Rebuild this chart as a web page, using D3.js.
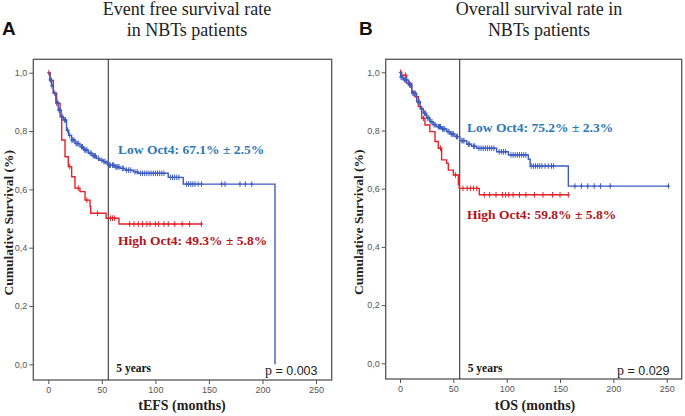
<!DOCTYPE html>
<html>
<head>
<meta charset="utf-8">
<script src="https://cdn.jsdelivr.net/npm/d3@7"></script>
<style>
  body { margin: 0; background: #fff; }
  svg { display: block; }
</style>
</head>
<body>
<svg id="chart" width="685" height="416"></svg>
<script>
// ---------- DATA ----------
const xTicks = [0, 50, 100, 150, 200, 250];
const yTicks = [0, 0.2, 0.4, 0.6, 0.8, 1.0];
const fiveYears = 56; // vertical reference line (months)

// Panel A: event-free survival
const efsLowT = [0, 1.6, 3, 4.7, 7, 9.3, 12, 14, 17, 19, 21.8, 25, 29.6, 33, 37.3, 41, 45, 48, 51.4, 54, 56, 62, 67, 71.6, 79.4, 84, 112, 126, 211.7];
const efsLowS = [1, 0.975, 0.955, 0.93, 0.9, 0.872, 0.85, 0.838, 0.803, 0.785, 0.769, 0.757, 0.746, 0.735, 0.724, 0.715, 0.706, 0.70, 0.695, 0.69, 0.683, 0.677, 0.672, 0.666, 0.660, 0.655, 0.641, 0.618, 0];
const efsLowEnd = 211.7;
const efsLowCens = [2, 3.5, 6, 8, 10, 11, 13, 15, 16, 18, 20, 22, 23, 24, 26, 27, 28, 31, 32, 34, 35, 36, 39, 40, 42, 43, 44, 47, 50, 52, 53, 55, 57, 58, 60, 61, 63, 64, 65, 66, 69, 70, 73, 75, 77, 81, 83, 86, 88, 90, 92, 94, 96, 98, 100, 102, 104, 106, 108, 114, 116, 118, 120, 122, 129, 131, 133, 135, 137, 140, 143, 162, 165, 179, 184, 190];

const efsHighT = [0, 1.6, 4.7, 7.8, 11, 12.5, 15.6, 18.7, 21.8, 24.9, 29.6, 34.3, 39, 39.6, 54, 66];
const efsHighS = [1, 0.973, 0.93, 0.895, 0.849, 0.769, 0.712, 0.678, 0.643, 0.604, 0.592, 0.563, 0.541, 0.518, 0.501, 0.481];
const efsHighEnd = 143;
const efsHighCens = [0.5, 3, 8, 20, 28, 36, 46, 58, 60, 62, 76, 80, 84, 88, 92, 95, 100, 103, 108, 112, 118, 125, 132, 143];

// Panel B: overall survival
const osLowT = [0, 0.5, 3.1, 7.8, 11, 15.6, 19, 21.9, 25, 28, 31, 34.4, 39, 43.7, 47, 51.5, 56, 62.5, 67, 72, 90.6, 101.6, 120.3, 122, 157.8];
const osLowS = [1, 0.983, 0.974, 0.956, 0.928, 0.899, 0.875, 0.859, 0.843, 0.830, 0.82, 0.813, 0.805, 0.796, 0.788, 0.779, 0.765, 0.753, 0.746, 0.739, 0.727, 0.716, 0.701, 0.678, 0.609];
const osLowEnd = 251.6;
const osLowCens = [1, 2, 4, 5, 6, 9, 10, 12, 13, 14, 17, 18, 20, 23, 24, 26, 27, 29, 30, 32, 33, 36, 37, 38, 40, 41, 42, 45, 46, 48, 49, 50, 53, 54, 58, 59, 60, 64, 65, 69, 70, 74, 76, 78, 80, 82, 84, 86, 88, 93, 95, 97, 99, 104, 106, 108, 110, 112, 114, 116, 118, 123, 125, 127, 129, 131, 133, 136, 139, 142, 144, 164, 170, 176, 182, 188, 197, 251.6];

const osHighT = [0, 1.5, 6.2, 11, 14, 17.2, 20.3, 23.4, 28, 32.8, 35.9, 39, 43.7, 45.3, 50, 54.7, 55.6, 74.3];
const osHighS = [1, 0.99, 0.962, 0.933, 0.916, 0.882, 0.842, 0.819, 0.796, 0.762, 0.739, 0.699, 0.687, 0.664, 0.647, 0.613, 0.601, 0.579];
const osHighEnd = 157.8;
const osHighCens = [0.5, 5, 9, 22, 38, 52, 59, 63, 66, 69, 72, 79, 84, 90, 96, 99, 102, 106, 112, 118, 126, 134, 143, 150, 157.8];

// ---------- DRAW ----------
const svg = d3.select("#chart");
const blueLine = "#3d5cc0", redLine = "#e4232b";
const blueText = "#2b78b8", redText = "#b3141c";
const serif = "'Liberation Serif', 'Times New Roman', serif";
const sans = "'Liberation Sans', Arial, sans-serif";

const panels = [
  {
    letter: "A", letterX: 2, title: ["Event free survival rate", "in NBTs patients"], titleX: 187,
    box: [33.3, 59.3, 331.7, 380], xr: [48.3, 316], yr: [364.3, 72.7],
    xlabel: "tEFS (months)", xlabelX: 182, ytitleX: 13,
    low: {t: efsLowT, s: efsLowS, end: efsLowEnd, cens: efsLowCens},
    high: {t: efsHighT, s: efsHighS, end: efsHighEnd, cens: efsHighCens},
    lowLabel: "Low Oct4: 67.1% \u00b1 2.5%", lowLabelPos: [118, 154],
    highLabel: "High Oct4: 49.3% \u00b1 5.8%", highLabelPos: [118, 245],
    p: "0.003", pX: 265
  },
  {
    letter: "B", letterX: 359, title: ["Overall survival rate in", "NBTs patients"], titleX: 539,
    box: [385.7, 59.3, 681.7, 379], xr: [400, 666.7], yr: [363.3, 72.3],
    xlabel: "tOS (months)", xlabelX: 535, ytitleX: 363,
    low: {t: osLowT, s: osLowS, end: osLowEnd, cens: osLowCens},
    high: {t: osHighT, s: osHighS, end: osHighEnd, cens: osHighCens},
    lowLabel: "Low Oct4: 75.2% \u00b1 2.3%", lowLabelPos: [467, 132],
    highLabel: "High Oct4: 59.8% \u00b1 5.8%", highLabelPos: [467, 219],
    p: "0.029", pX: 617
  }
];

const fmt = d => d3.format(".1f")(d).replace(".", ",");

panels.forEach(P => {
  const x = d3.scaleLinear().domain([0, 250]).range(P.xr);
  const y = d3.scaleLinear().domain([0, 1]).range(P.yr);
  const [bx0, by0, bx1, by1] = P.box;
  const g = svg.append("g");

  // panel letter
  g.append("text").attr("x", P.letterX).attr("y", 35)
    .attr("font-family", sans).attr("font-weight", "bold").attr("font-size", 19)
    .attr("fill", "#111").text(P.letter);

  // title
  P.title.forEach((line, i) => {
    g.append("text").attr("x", P.titleX).attr("y", 15 + i * 21)
      .attr("text-anchor", "middle").attr("font-family", serif)
      .attr("font-size", 18).attr("fill", "#222").text(line);
  });

  // box
  g.append("rect").attr("x", bx0).attr("y", by0)
    .attr("width", bx1 - bx0).attr("height", by1 - by0)
    .attr("fill", "none").attr("stroke", "#555").attr("stroke-width", 1.3);

  // y axis
  const ya = g.append("g").attr("transform", `translate(${bx0},0)`)
    .call(d3.axisLeft(y).tickValues(yTicks).tickSize(4).tickPadding(2).tickFormat(fmt));
  ya.select(".domain").remove();
  ya.selectAll("line").attr("stroke", "#555");
  ya.selectAll("text").attr("font-family", sans).attr("font-size", 9).attr("fill", "#555");

  // x axis
  const xa = g.append("g").attr("transform", `translate(0,${by1})`)
    .call(d3.axisBottom(x).tickValues(xTicks).tickSize(4).tickPadding(3).tickFormat(d3.format("d")));
  xa.select(".domain").remove();
  xa.selectAll("line").attr("stroke", "#555");
  xa.selectAll("text").attr("font-family", sans).attr("font-size", 9).attr("fill", "#555");

  // axis titles
  g.append("text").attr("x", P.xlabelX).attr("y", 410).attr("text-anchor", "middle")
    .attr("font-family", serif).attr("font-weight", "bold").attr("font-size", 14)
    .attr("fill", "#222").text(P.xlabel);
  g.append("text").attr("transform", `translate(${P.ytitleX},${(by0 + by1) / 2 + 3}) rotate(-90)`)
    .attr("text-anchor", "middle").attr("font-family", serif).attr("font-weight", "bold")
    .attr("font-size", 13.5).attr("fill", "#222").text("Cumulative Survival (%)");

  // 5-year line
  g.append("line").attr("x1", x(fiveYears)).attr("x2", x(fiveYears))
    .attr("y1", by0).attr("y2", by1).attr("stroke", "#222").attr("stroke-width", 1);
  g.append("text").attr("x", x(fiveYears) + 8).attr("y", 372)
    .attr("font-family", serif).attr("font-weight", "bold").attr("font-size", 11.5)
    .attr("fill", "#111").text("5 years");

  // curves
  const line = d3.line().x(d => x(d[0])).y(d => y(d[1])).curve(d3.curveStepAfter);
  const drawCurve = (c, color) => {
    const pts = c.t.map((t, i) => [t, c.s[i]]);
    const lastS = c.s[c.s.length - 1];
    if (c.end > c.t[c.t.length - 1]) pts.push([c.end, lastS]);
    g.append("path").datum(pts).attr("d", line).attr("fill", "none")
      .attr("stroke", color).attr("stroke-width", 1.4);
    const survAt = t => c.s[Math.max(0, d3.bisectRight(c.t, t) - 1)];
    g.append("g").selectAll("path").data(c.cens).join("path")
      .attr("d", t => {
        const cx = x(t), cy = y(survAt(t));
        return `M${cx},${cy - 2.8}V${cy + 2.8}M${cx - 1.8},${cy}H${cx + 1.8}`;
      })
      .attr("stroke", color).attr("stroke-width", 1).attr("fill", "none");
  };
  drawCurve(P.high, redLine);
  drawCurve(P.low, blueLine);

  // labels
  g.append("text").attr("x", P.lowLabelPos[0]).attr("y", P.lowLabelPos[1])
    .attr("font-family", serif).attr("font-weight", "bold").attr("font-size", 13.5)
    .attr("fill", blueText).text(P.lowLabel);
  g.append("text").attr("x", P.highLabelPos[0]).attr("y", P.highLabelPos[1])
    .attr("font-family", serif).attr("font-weight", "bold").attr("font-size", 13.5)
    .attr("fill", redText).text(P.highLabel);

  // p value
  const pt = g.append("text").attr("x", P.pX).attr("y", 375).attr("fill", "#222");
  pt.append("tspan").attr("font-family", serif).attr("font-size", 14).text("p");
  pt.append("tspan").attr("font-family", sans).attr("font-size", 12.5).text(" = " + P.p);
});
</script>
</body>
</html>
